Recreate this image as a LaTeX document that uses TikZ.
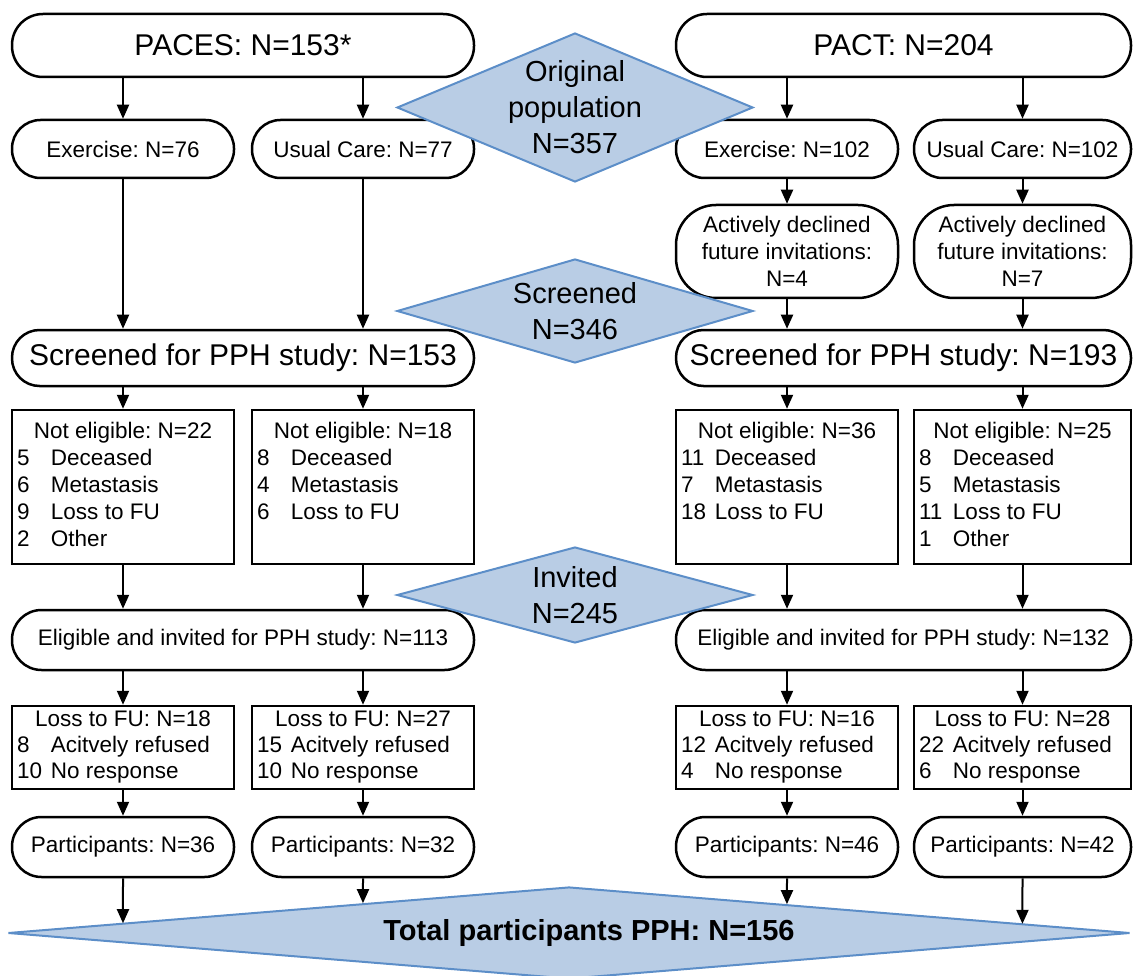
\documentclass[tikz,border=0pt]{standalone}
\usepackage{fontspec}
\setmainfont{Liberation Sans}
\usetikzlibrary{arrows.meta,shapes.geometric}
\definecolor{dfill}{RGB}{185,205,229}
\definecolor{dline}{RGB}{92,142,200}
\frenchspacing
\newcommand\fbig{\fontsize{30}{34}\selectfont}
\newcommand\fsm{\fontsize{22.5}{27}\selectfont}
\newcommand\flo{\fontsize{22.5}{26}\selectfont}
\newcommand\fdia{\fontsize{29}{36}\selectfont}
\newcommand\ftot{\fontsize{29}{34}\selectfont\bfseries}
\newcommand\lst[3]{\begin{tabular}{@{}p{34pt}@{}p{#1}@{}}\multicolumn{2}{@{}c@{}}{#2}\\#3\end{tabular}}
\begin{document}
\begin{tikzpicture}[x=1pt,y=-1pt,
  pill/.style={draw, line width=2.5pt, rectangle, inner sep=0pt, align=center, font=\fsm},
  rect/.style={draw, line width=2.5pt, rectangle, inner xsep=5pt, inner ysep=0pt, font=\fsm},
  dia/.style={diamond, draw=dline, fill=dfill, line width=2pt, inner sep=0pt},
  arr/.style={line width=2pt, -{Triangle[length=14pt,width=12pt]}}
]
\useasboundingbox (0,0) rectangle (1135,976);

% row 1
\node[pill, font=\fbig, minimum width=462, minimum height=63, rounded corners=31] (paces) at (243,45.5) {PACES: N=153*};
\node[pill, font=\fbig, minimum width=455, minimum height=63, rounded corners=31] (pact) at (903.5,45.5) {PACT: N=204};
% row 2
\node[pill, minimum width=222, minimum height=58, rounded corners=28.5] (exA) at (123,149) {Exercise: N=76};
\node[pill, minimum width=222, minimum height=58, rounded corners=28.5] (ucB) at (363,149) {Usual Care: N=77};
\node[pill, minimum width=222, minimum height=58, rounded corners=28.5] (exC) at (787,149) {Exercise: N=102};
\node[pill, minimum width=217, minimum height=58, rounded corners=28.5] (ucD) at (1022.5,149) {Usual Care: N=102};
% declined
\node[pill, minimum width=222, minimum height=93, rounded corners=40] (decC) at (787,251.5) {Actively declined\\future invitations:\\N=4};
\node[pill, minimum width=217, minimum height=93, rounded corners=40] (decD) at (1022.5,251.5) {Actively declined\\future invitations:\\N=7};
% screened
\node[pill, font=\fbig, minimum width=462, minimum height=56, rounded corners=27.5] (scrP) at (243,358) {Screened for PPH study: N=153};
\node[pill, font=\fbig, minimum width=455, minimum height=56, rounded corners=27.5] (scrT) at (903.5,358) {Screened for PPH study: N=193};
% not eligible
\node[rect, minimum width=222, minimum height=154] (neA) at (123,487) {\lst{178pt}{Not eligible: N=22}{5&Deceased\\6&Metastasis\\9&Loss to FU\\2&Other}};
\node[rect, minimum width=222, minimum height=154] (neB) at (363,487) {\lst{178pt}{Not eligible: N=18}{8&Deceased\\4&Metastasis\\6&Loss to FU\\&}};
\node[rect, minimum width=222, minimum height=154] (neC) at (787,487) {\lst{178pt}{Not eligible: N=36}{11&Deceased\\7&Metastasis\\18&Loss to FU\\&}};
\node[rect, minimum width=217, minimum height=154] (neD) at (1022.5,487) {\lst{173pt}{Not eligible: N=25}{8&Deceased\\5&Metastasis\\11&Loss to FU\\1&Other}};
% eligible
\node[pill, minimum width=462, minimum height=60, rounded corners=29.5] (elP) at (243,640) {Eligible and invited for PPH study: N=113};
\node[pill, minimum width=455, minimum height=60, rounded corners=29.5] (elT) at (903.5,640) {Eligible and invited for PPH study: N=132};
% loss
\node[rect, font=\flo, minimum width=222, minimum height=83] (lossA) at (123,747.5) {\lst{178pt}{Loss to FU: N=18}{8&Acitvely refused\\10&No response}};
\node[rect, font=\flo, minimum width=222, minimum height=83] (lossB) at (363,747.5) {\lst{178pt}{Loss to FU: N=27}{15&Acitvely refused\\10&No response}};
\node[rect, font=\flo, minimum width=222, minimum height=83] (lossC) at (787,747.5) {\lst{178pt}{Loss to FU: N=16}{12&Acitvely refused\\4&No response}};
\node[rect, font=\flo, minimum width=217, minimum height=83] (lossD) at (1022.5,747.5) {\lst{173pt}{Loss to FU: N=28}{22&Acitvely refused\\6&No response}};
% participants
\node[pill, minimum width=222, minimum height=60, rounded corners=29.5] (parA) at (123,847) {Participants: N=36};
\node[pill, minimum width=222, minimum height=60, rounded corners=29.5] (parB) at (363,847) {Participants: N=32};
\node[pill, minimum width=222, minimum height=60, rounded corners=29.5] (parC) at (787,847) {Participants: N=46};
\node[pill, minimum width=217, minimum height=60, rounded corners=29.5] (parD) at (1022.5,847) {Participants: N=42};

% diamonds
\node[dia, minimum width=356, minimum height=149, label={[font=\fdia, align=center]center:{Original\\population\\N=357}}] (orig) at (575,107.5) {};
\node[dia, minimum width=356, minimum height=104, label={[font=\fdia, align=center]center:{Screened\\N=346}}] (scr) at (575,311) {};
\node[dia, minimum width=356, minimum height=96, label={[font=\fdia, align=center]center:{Invited\\N=245}}] (inv) at (575,595) {};
\node[dia, minimum width=1122, minimum height=92, label={[font=\ftot, xshift=20pt]center:{Total participants PPH: N=156}}] (total) at (569,933) {};

% arrows
\draw[arr] (paces.south -| exA) -- (exA.north);
\draw[arr] (paces.south -| ucB) -- (ucB.north);
\draw[arr] (pact.south -| exC) -- (exC.north);
\draw[arr] (pact.south -| ucD) -- (ucD.north);
\draw[arr] (exA.south) -- (exA.south |- scrP.north);
\draw[arr] (ucB.south) -- (ucB.south |- scrP.north);
\draw[arr] (exC.south) -- (decC.north);
\draw[arr] (ucD.south) -- (decD.north);
\draw[arr] (decC.south) -- (decC.south |- scrT.north);
\draw[arr] (decD.south) -- (decD.south |- scrT.north);
\draw[arr] (scrP.south -| neA) -- (neA.north);
\draw[arr] (scrP.south -| neB) -- (neB.north);
\draw[arr] (scrT.south -| neC) -- (neC.north);
\draw[arr] (scrT.south -| neD) -- (neD.north);
\draw[arr] (neA.south) -- (neA.south |- elP.north);
\draw[arr] (neB.south) -- (neB.south |- elP.north);
\draw[arr] (neC.south) -- (neC.south |- elT.north);
\draw[arr] (neD.south) -- (neD.south |- elT.north);
\draw[arr] (elP.south -| lossA) -- (lossA.north);
\draw[arr] (elP.south -| lossB) -- (lossB.north);
\draw[arr] (elT.south -| lossC) -- (lossC.north);
\draw[arr] (elT.south -| lossD) -- (lossD.north);
\draw[arr] (lossA.south) -- (parA.north);
\draw[arr] (lossB.south) -- (parB.north);
\draw[arr] (lossC.south) -- (parC.north);
\draw[arr] (lossD.south) -- (parD.north);
\draw[arr] (parA.south) -- (intersection of parA.north--parA.south and total.west--total.north);
\draw[arr] (parB.south) -- (intersection of parB.north--parB.south and total.west--total.north);
\draw[arr] (parC.south) -- (intersection of parC.north--parC.south and total.north--total.east);
\draw[arr] (parD.south) -- (intersection of parD.north--parD.south and total.north--total.east);
\end{tikzpicture}
\end{document}
